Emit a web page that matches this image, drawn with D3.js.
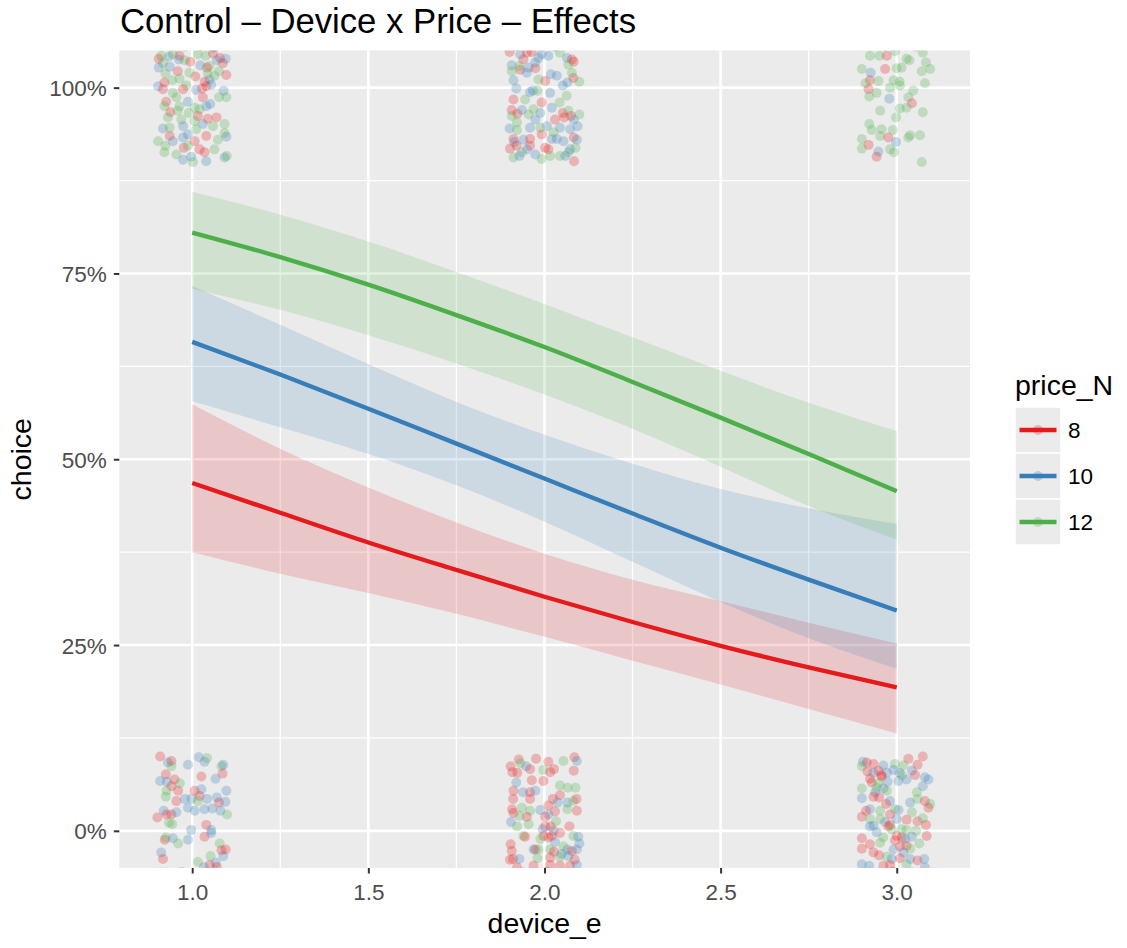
<!DOCTYPE html>
<html>
<head>
<meta charset="utf-8">
<script src="https://cdn.jsdelivr.net/npm/d3@7"></script>
<style>
  body { margin: 0; background: #fff; }
  text { font-family: "Liberation Sans", Arial, Helvetica, sans-serif; }
</style>
</head>
<body>
<svg id="chart" width="1127" height="948"></svg>
<script>
// ---- data ---------------------------------------------------------------
const priceLevels = ["8", "10", "12"];
const priceColors = ["#E41A1C", "#377EB8", "#4DAF4A"];

const xTicks = [1.0, 1.5, 2.0, 2.5, 3.0];
const yTicks = [0, 0.25, 0.5, 0.75, 1.0];

// predicted choice probability along device_e, with confidence band
const curveX = [1, 1.25, 1.5, 1.75, 2, 2.25, 2.5, 2.75, 3];
const fit8   = [0.468, 0.428, 0.388, 0.351, 0.315, 0.281, 0.249, 0.220, 0.193];
const low8   = [0.375, 0.346, 0.320, 0.292, 0.261, 0.229, 0.197, 0.164, 0.131];
const high8  = [0.574, 0.514, 0.462, 0.415, 0.373, 0.338, 0.309, 0.280, 0.252];
const fit10  = [0.658, 0.614, 0.568, 0.521, 0.474, 0.427, 0.381, 0.338, 0.2965];
const low10  = [0.578, 0.543, 0.507, 0.465, 0.416, 0.362, 0.308, 0.259, 0.218];
const high10 = [0.733, 0.681, 0.628, 0.577, 0.533, 0.494, 0.460, 0.434, 0.413];
const fit12  = [0.805, 0.772, 0.735, 0.694, 0.651, 0.604, 0.556, 0.507, 0.457];
const low12  = [0.729, 0.701, 0.667, 0.629, 0.587, 0.541, 0.490, 0.437, 0.392];
const high12 = [0.860, 0.829, 0.793, 0.752, 0.709, 0.664, 0.619, 0.576, 0.538];

// raw responses (jittered): [x offset, y offset] in hundredths, then price_N
const choseAt1 = [
  [-8.8,4.3,12],[-6.6,4.2,10],[-9.5,3.9,8],[-8.3,3.3,12],[-9.5,2.7,10],[-5.5,4.5,12],[-3.6,4.3,8],
  [-3.8,3.8,10],[-2.2,3.7,12],[-0.6,3.5,8],[-4.1,2.2,8],[-6.4,2.8,10],[-7.6,1.9,12],[1.6,4.5,12],
  [3.8,4.3,12],[5.9,4.6,8],[7.9,4.0,8],[9.5,3.9,10],[8.7,3.3,8],[7.0,3.7,10],[4.9,2.9,12],
  [4.2,2.7,8],[2.3,3.0,10],[7.6,2.2,12],[9.7,1.7,8],[0.9,1.5,8],[4.9,1.1,10],[3.5,0.8,8],
  [-9.7,0.2,10],[-7.9,0.7,8],[-8.3,-0.2,8],[-5.7,1.0,12],[-1.7,0.3,12],[-2.6,-0.2,8],[1.1,-0.3,10],
  [2.8,-0.1,8],[4.0,0.2,8],[5.4,0.4,10],[8.9,-0.4,10],[7.6,-1.3,12],[9.7,-1.3,12],[3.0,-1.3,8],
  [5.1,-2.2,10],[2.1,-2.9,12],[0.7,-2.7,12],[-1.2,-1.9,10],[-4.5,-1.3,12],[-7.4,-1.9,8],[-7.9,-2.5,12],
  [-6.2,-3.3,8],[-6.9,-4.0,12],[-3.1,-4.3,12],[-1.0,-3.4,12],[1.6,-3.8,8],[4.4,-4.2,8],[6.9,-4.0,8],
  [5.9,-5.2,12],[9.2,-4.9,12],[3.0,-4.9,10],[0.7,-4.5,12],[-2.6,-5.2,10],[-8.3,-5.5,10],[-9.7,-7.2,12],
  [-6.4,-6.5,8],[-7.6,-7.8,12],[-5.5,-7.2,10],[-2.6,-6.7,10],[-1.2,-6.3,10],[0.7,-7.2,8],[4.0,-6.5,8],
  [9.2,-6.1,12],[9.7,-6.6,10],[-2.4,-8.1,8],[-1.2,-7.8,12],[2.1,-8.3,8],[3.5,-8.7,8],[6.3,-8.3,12],
  [-7.9,-8.7,12],[-2.6,-9.7,10],[-0.3,-9.3,10],[0.2,-10.0,12],[4.0,-9.9,10],[9.2,-9.4,10],[9.8,-9.2,12],
  [-4.5,-9.0,12],[-3.6,-2.5,12],[-5.5,-0.7,12],[6.3,1.6,12],[4.4,1.9,12],[-0.8,2.0,12],[-3.6,1.2,12],
  [4.0,-2.5,10],[-4.1,-3.1,12],[7.3,-7.0,12],[1.1,-5.6,12],[-6.4,-5.4,12],[-2.0,5.5,12],[2.5,5.6,8],
  [-7.0,5.7,12],[6.0,5.4,10]
];
const choseAt2 = [
  [-9.9,4.8,8],[-6.9,4.5,10],[-5.0,4.7,8],[-3.6,4.8,8],[-0.8,4.5,10],[1.1,4.3,10],[4.4,4.7,12],
  [6.4,4.0,10],[7.8,3.8,8],[8.3,3.5,8],[6.8,3.1,12],[-6.0,3.8,8],[-9.3,3.0,10],[-6.9,2.4,8],
  [-9.3,2.2,12],[-4.5,2.7,10],[-2.6,2.6,8],[-5.0,2.0,10],[-2.6,3.4,10],[1.8,1.8,10],[0.2,0.9,8],
  [-1.7,1.1,12],[-8.8,1.0,10],[-8.0,-0.1,10],[-4.1,-0.6,10],[-3.3,-0.4,10],[-2.0,-0.4,12],[1.6,-0.7,10],
  [5.2,0.3,10],[6.5,0.7,10],[8.2,1.3,8],[9.9,0.8,12],[7.8,2.0,12],[6.3,-1.1,12],[-8.8,-1.6,8],
  [-9.3,-3.0,8],[-9.3,-3.8,12],[-7.7,-3.5,8],[-6.4,-3.0,10],[-4.5,-3.6,12],[-1.2,-3.4,10],[-2.6,-4.3,10],
  [2.1,-2.7,10],[3.0,-4.3,8],[5.2,-3.4,8],[6.8,-3.1,12],[5.6,-4.0,8],[7.5,-3.8,8],[8.3,-4.3,10],
  [9.9,-3.6,12],[9.4,-5.2,10],[7.3,-5.6,10],[4.4,-5.4,10],[0.7,-5.2,10],[-1.2,-5.4,12],[-4.1,-5.4,10],
  [-7.8,-5.7,12],[-9.9,-5.5,10],[-8.8,-6.9,8],[-8.6,-7.3,10],[-9.8,-8.2,8],[-7.9,-7.8,8],[-6.0,-7.0,10],
  [-4.1,-6.9,8],[-4.1,-7.8,8],[-6.4,-8.7,12],[-5.0,-8.3,10],[-2.6,-9.0,10],[0.2,-8.1,8],[-0.8,-6.3,8],
  [2.1,-6.9,10],[3.5,-6.9,10],[5.4,-7.2,10],[8.3,-6.7,8],[9.2,-7.0,10],[8.8,-8.1,12],[6.8,-8.7,12],
  [8.4,-9.9,8],[4.4,-9.2,12],[1.1,-8.3,8],[1.6,-9.2,12],[-0.8,-9.6,12],[-8.8,-9.4,12],[-7.1,-9.2,10],
  [5.9,-9.2,10],[7.3,-8.3,10],[3.5,1.6,10],[-7.1,2.9,12],[-1.7,4.0,10],[-5.5,-1.6,12],[-0.8,-2.0,8],
  [4.3,-2.0,12],[2.6,-6.0,12],[-7.8,-4.7,12],[-3.1,-2.9,12],[-8.0,5.6,8],[3.0,5.5,10],[8.8,5.7,8]
];
const choseAt3 = [
  [-7.6,4.3,12],[-4.9,4.3,12],[-2.8,4.3,8],[-0.5,4.9,12],[2.8,3.9,12],[3.6,3.7,12],[7.4,4.7,12],
  [8.3,3.4,12],[9.5,2.5,12],[7.1,2.2,12],[-9.9,2.5,12],[-7.4,2.0,10],[-3.3,2.5,8],[0.0,2.6,12],
  [1.4,2.7,12],[-7.6,1.0,8],[-8.9,0.6,12],[-8.0,-0.2,8],[-5.2,0.9,12],[-5.7,-0.7,12],[-7.8,-1.2,12],
  [-1.9,0.0,12],[-0.9,1.0,12],[0.8,0.8,12],[0.9,0.3,12],[8.0,0.6,12],[-2.1,-1.5,10],[4.7,-0.4,12],
  [3.3,-1.3,12],[4.3,-2.1,8],[2.8,-2.7,12],[0.9,-2.8,12],[-4.7,-3.1,12],[-0.2,-4.0,12],[7.4,-3.3,12],
  [-7.8,-4.9,12],[-7.1,-5.7,12],[-4.3,-5.6,12],[-1.1,-5.7,12],[-4.7,-6.5,12],[-9.9,-6.9,12],[-8.0,-7.7,8],
  [-9.9,-8.2,12],[-2.4,-6.7,8],[-0.2,-7.3,10],[3.8,-6.4,12],[6.6,-6.4,12],[3.3,-6.7,12],[-5.2,-8.6,10],
  [-5.7,-9.3,8],[-1.9,-8.3,12],[-0.8,-8.7,12],[7.1,-10.0,12],[-3.5,5.6,12],[5.5,5.5,12]
];
const rejectAt1 = [
  [-9.1,10.0,8],[-6.9,9.2,10],[-5.9,9.4,8],[-5.9,8.7,12],[-1.2,8.9,10],[1.9,9.9,10],[4.2,9.8,12],
  [3.5,9.3,10],[8.3,8.7,12],[8.8,8.9,10],[8.6,7.7,8],[2.6,7.3,8],[6.6,7.0,10],[-7.5,7.6,8],
  [-9.1,6.7,10],[-7.2,6.6,10],[-5.0,6.9,8],[-3.5,6.4,12],[-5.9,6.0,8],[-4.0,5.4,8],[-7.3,5.4,12],
  [-7.5,4.6,12],[0.7,5.4,8],[2.6,5.6,10],[2.1,4.7,8],[9.7,5.4,10],[-4.5,4.0,8],[-2.1,4.3,10],
  [-0.2,4.3,10],[1.6,4.0,12],[4.2,4.3,10],[7.0,4.5,10],[7.6,3.8,8],[9.4,3.9,10],[-1.2,3.1,10],
  [0.7,2.7,10],[3.5,2.9,10],[5.7,3.0,10],[-8.1,2.7,10],[-7.3,2.2,8],[-9.9,1.8,8],[-5.9,2.2,8],
  [-4.5,2.5,10],[9.9,2.2,12],[8.0,2.7,10],[-5.7,0.9,12],[-6.6,1.1,12],[-0.3,0.1,10],[4.0,0.8,8],
  [5.4,0.1,10],[3.5,-0.8,8],[5.4,-0.3,10],[-7.8,-1.2,8],[-7.5,-0.9,12],[-5.5,-1.0,10],[-4.0,-1.7,12],
  [-1.2,-1.2,10],[-8.8,-2.9,10],[-8.3,-3.8,8],[7.8,-1.7,12],[8.3,-2.6,8],[9.5,-2.5,8],[8.8,-3.4,10],
  [5.2,-3.4,12],[6.7,-4.3,10],[5.0,-4.6,8],[1.6,-4.2,12],[3.3,-4.9,10],[7.0,-4.9,8],[-9.0,-5.6,10],
  [-3.0,-5.5,12],[6.2,-5.7,8]
];
const rejectAt2 = [
  [-9.6,8.7,8],[-7.3,9.6,8],[-6.8,9.1,12],[-5.2,8.7,10],[-4.1,8.3,8],[-2.4,9.7,8],[-9.1,7.9,8],
  [-7.7,7.8,8],[-8.0,6.5,10],[-3.6,6.8,8],[-0.3,8.2,12],[1.1,9.3,8],[2.7,8.3,8],[1.6,7.9,8],
  [5.4,9.4,12],[8.5,9.9,8],[9.2,9.4,10],[8.3,8.1,8],[-0.3,6.7,8],[-8.8,5.4,8],[-6.1,5.2,10],
  [-4.1,5.2,8],[-2.6,5.4,10],[-4.1,4.3,8],[-8.9,4.3,8],[4.4,6.1,12],[6.6,5.8,12],[8.8,5.8,12],
  [4.4,4.8,8],[2.4,4.3,8],[3.7,3.8,10],[6.5,3.8,10],[8.2,4.0,12],[9.1,4.3,8],[-9.2,2.9,8],
  [-8.8,2.4,8],[-6.4,3.1,12],[-4.1,2.7,12],[-5.0,1.9,8],[-7.1,2.0,12],[-1.2,2.8,10],[1.1,3.4,8],
  [3.0,2.6,8],[6.5,2.9,12],[9.2,2.7,8],[1.1,2.2,10],[0.2,1.9,8],[3.3,1.3,12],[-9.5,1.2,10],
  [-7.8,0.6,12],[0.2,0.6,8],[1.8,0.6,8],[-0.5,0.2,10],[2.6,0.0,10],[7.1,0.6,8],[-6.0,-0.7,12],
  [-5.5,-0.8,8],[-0.3,-0.7,8],[1.1,-0.9,8],[2.1,-0.7,8],[4.4,-0.3,8],[8.2,-0.7,12],[9.6,-0.8,10],
  [3.0,-1.5,10],[9.9,-1.7,10],[-9.6,-1.8,8],[-9.3,-2.7,8],[-3.1,-2.5,10],[-2.6,-2.5,8],[-1.7,-2.5,12],
  [1.6,-2.5,12],[2.7,-2.8,8],[4.9,-3.1,10],[6.5,-2.5,10],[7.8,-2.7,8],[9.2,-2.5,10],[6.8,-3.4,10],
  [-9.8,-3.9,8],[-8.9,-3.8,8],[-7.1,-3.8,10],[-2.0,-3.7,12],[1.6,-3.6,8],[4.4,-3.5,12],[8.6,-3.9,8],
  [-3.1,-4.7,8],[-7.8,-4.9,8],[1.6,-4.6,8],[4.4,-4.7,8],[7.3,-4.7,8],[9.2,-4.6,10],[-4.5,0.9,12],
  [5.4,-2.1,12],[-1.2,-1.1,12],[-6.0,-5.6,8],[0.5,-5.5,8],[3.5,-5.7,10]
];
const rejectAt3 = [
  [-9.6,9.3,10],[-8.5,9.2,8],[-6.6,9.0,8],[-9.9,8.7,12],[-3.8,8.8,10],[-0.5,9.0,12],[1.9,8.8,12],
  [3.3,9.7,8],[5.9,8.9,8],[7.4,10.0,8],[4.3,8.1,10],[5.2,7.5,8],[-8.3,8.0,8],[-6.6,7.8,10],
  [-5.2,8.1,8],[-2.8,7.8,10],[-0.9,8.2,10],[0.8,7.8,10],[1.4,7.5,12],[-7.6,7.0,8],[-4.3,7.3,8],
  [-7.1,6.5,8],[-5.2,6.4,12],[-2.6,6.6,10],[0.5,6.7,10],[2.8,6.9,10],[8.0,7.2,10],[9.0,6.9,10],
  [7.4,6.0,10],[-9.9,5.7,12],[-5.7,5.8,12],[-3.8,5.7,10],[-2.8,5.4,12],[-6.1,5.2,10],[5.7,5.2,12],
  [-9.9,4.4,10],[-6.6,4.6,8],[-5.0,4.5,8],[-1.9,4.0,10],[-3.0,3.6,8],[3.8,3.8,10],[5.9,4.3,12],
  [8.0,4.0,8],[9.5,3.6,12],[9.0,3.1,8],[-7.6,2.9,10],[-8.7,2.7,8],[-4.7,2.7,12],[-0.5,2.9,12],
  [0.5,2.8,10],[-9.9,1.9,8],[-7.6,1.6,12],[-4.7,1.6,12],[-3.3,1.2,10],[-1.9,0.8,8],[0.0,1.6,10],
  [2.8,1.5,8],[4.3,2.5,12],[5.9,1.3,8],[7.4,1.7,12],[8.3,0.8,8],[-7.6,0.6,10],[-6.6,0.7,10],
  [-2.4,0.6,8],[-1.4,0.2,12],[2.8,0.1,12],[5.5,0.0,12],[-3.8,-0.9,12],[-9.9,-1.0,8],[0.0,-0.7,8],
  [1.4,-0.9,8],[-0.5,-1.3,8],[2.4,-1.1,10],[4.3,-0.8,10],[8.5,-0.7,8],[-4.7,-1.6,12],[-7.6,-1.8,8],
  [-9.9,-2.4,8],[-6.6,-2.9,8],[-5.0,-3.3,8],[-0.9,-2.5,10],[0.9,-2.1,8],[2.8,-2.0,8],[3.8,-2.4,12],
  [6.4,-1.7,12],[1.9,-2.9,10],[-2.8,-3.5,12],[-1.4,-3.8,10],[0.9,-3.7,8],[3.8,-3.8,10],[5.9,-4.0,8],
  [7.8,-3.8,10],[-9.9,-4.5,10],[-7.8,-4.7,10],[-3.8,-4.7,8],[-1.9,-4.6,8],[2.8,-4.5,12],[8.0,-4.9,10],
  [-4.3,7.5,8],[-1.9,2.2,8],[1.4,0.2,12],[-5.7,-0.2,10],[-8.0,-5.6,10],[-1.0,-5.5,8],[4.5,-5.6,10]
];

// ---- layout -------------------------------------------------------------
const panel = { left: 119.3, right: 970, top: 50.5, bottom: 868 };
const svg = d3.select("#chart");

const x = d3.scaleLinear().domain([0.793, 3.208]).range([panel.left, panel.right]);
const y = d3.scaleLinear().domain([-0.05, 1.05]).range([panel.bottom, panel.top]);
const color = d3.scaleOrdinal().domain(priceLevels).range(priceColors);

// panel background
svg.append("rect")
  .attr("x", panel.left).attr("y", panel.top)
  .attr("width", panel.right - panel.left).attr("height", panel.bottom - panel.top)
  .attr("fill", "#EBEBEB");

// grid lines (minor then major)
const xMinor = [1.25, 1.75, 2.25, 2.75];
const yMinor = [0.125, 0.375, 0.625, 0.875];
const grid = svg.append("g");
grid.selectAll(".xm").data(xMinor).join("line")
  .attr("x1", d => x(d)).attr("x2", d => x(d)).attr("y1", panel.top).attr("y2", panel.bottom)
  .attr("stroke", "#fff").attr("stroke-width", 1.3);
grid.selectAll(".ym").data(yMinor).join("line")
  .attr("y1", d => y(d)).attr("y2", d => y(d)).attr("x1", panel.left).attr("x2", panel.right)
  .attr("stroke", "#fff").attr("stroke-width", 1.3);
grid.selectAll(".xM").data(xTicks).join("line")
  .attr("x1", d => x(d)).attr("x2", d => x(d)).attr("y1", panel.top).attr("y2", panel.bottom)
  .attr("stroke", "#fff").attr("stroke-width", 2.6);
grid.selectAll(".yM").data(yTicks).join("line")
  .attr("y1", d => y(d)).attr("y2", d => y(d)).attr("x1", panel.left).attr("x2", panel.right)
  .attr("stroke", "#fff").attr("stroke-width", 2.6);

svg.append("clipPath").attr("id", "panel-clip").append("rect")
  .attr("x", panel.left).attr("y", panel.top)
  .attr("width", panel.right - panel.left).attr("height", panel.bottom - panel.top);

const plot = svg.append("g").attr("clip-path", "url(#panel-clip)");

// jittered raw responses
const clusters = [
  { x: 1, y: 1, pts: choseAt1 }, { x: 2, y: 1, pts: choseAt2 }, { x: 3, y: 1, pts: choseAt3 },
  { x: 1, y: 0, pts: rejectAt1 }, { x: 2, y: 0, pts: rejectAt2 }, { x: 3, y: 0, pts: rejectAt3 }
];
const points = clusters.flatMap(c => c.pts.map(p => ({
  x: c.x + p[0] / 100, y: c.y + p[1] / 100, price: String(p[2])
})));
plot.append("g").selectAll("circle").data(points).join("circle")
  .attr("cx", d => x(d.x)).attr("cy", d => y(d.y)).attr("r", 5)
  .attr("fill", d => color(d.price)).attr("fill-opacity", 0.27);

// fitted curves with confidence ribbons
const series = [
  { price: "8",  fit: fit8,  low: low8,  high: high8 },
  { price: "10", fit: fit10, low: low10, high: high10 },
  { price: "12", fit: fit12, low: low12, high: high12 }
].map(s => ({ ...s, rows: curveX.map((cx, i) => ({ x: cx, fit: s.fit[i], low: s.low[i], high: s.high[i] })) }));

const area = d3.area().curve(d3.curveMonotoneX)
  .x(d => x(d.x)).y0(d => y(d.low)).y1(d => y(d.high));
const line = d3.line().curve(d3.curveMonotoneX)
  .x(d => x(d.x)).y(d => y(d.fit));

plot.append("g").selectAll("path").data(series).join("path")
  .attr("d", d => area(d.rows)).attr("fill", d => color(d.price)).attr("fill-opacity", 0.17);
plot.append("g").selectAll("path").data(series).join("path")
  .attr("d", d => line(d.rows)).attr("fill", "none")
  .attr("stroke", d => color(d.price)).attr("stroke-width", 4.4);

// axes
const tickFont = 22.5;
const xAxis = svg.append("g").attr("transform", `translate(0,${panel.bottom})`)
  .call(d3.axisBottom(x).tickValues(xTicks).tickFormat(d3.format(".1f")).tickSize(5.5).tickPadding(8));
const yAxis = svg.append("g").attr("transform", `translate(${panel.left},0)`)
  .call(d3.axisLeft(y).tickValues(yTicks).tickFormat(d3.format(".0%")).tickSize(5.5).tickPadding(7));
[xAxis, yAxis].forEach(a => {
  a.select(".domain").remove();
  a.selectAll(".tick line").attr("stroke", "#333333").attr("stroke-width", 2);
  a.selectAll(".tick text").attr("fill", "#4D4D4D").style("font-size", tickFont + "px")
    .style("font-family", '"Liberation Sans", Arial, sans-serif');
});
xAxis.selectAll(".tick text").attr("y", 32).attr("dy", 0);
yAxis.selectAll(".tick text").attr("dy", "0.36em");

// titles
svg.append("text").attr("x", 120).attr("y", 33).attr("font-size", 34.7).attr("fill", "#000")
  .text("Control \u2013 Device x Price \u2013 Effects");
svg.append("text").attr("x", (panel.left + panel.right) / 2).attr("y", 933)
  .attr("text-anchor", "middle").attr("font-size", 28.5).attr("fill", "#000").text("device_e");
svg.append("text")
  .attr("transform", `translate(31,${(panel.top + panel.bottom) / 2}) rotate(-90)`)
  .attr("text-anchor", "middle").attr("font-size", 28.5).attr("fill", "#000").text("choice");

// legend
const legend = svg.append("g").attr("transform", "translate(1015,0)");
legend.append("text").attr("x", 0).attr("y", 395).attr("font-size", 28.5).attr("fill", "#000").text("price_N");
const keySize = 46, keyTop = 407;
const keys = legend.selectAll(".key").data(priceLevels).join("g")
  .attr("transform", (d, i) => `translate(0,${keyTop + i * keySize})`);
keys.append("rect").attr("width", keySize).attr("height", keySize)
  .attr("fill", "#EBEBEB").attr("stroke", "#fff").attr("stroke-width", 1.5);
keys.append("circle").attr("cx", keySize / 2).attr("cy", keySize / 2).attr("r", 5)
  .attr("fill", d => color(d)).attr("fill-opacity", 0.27);
keys.append("line").attr("x1", 4.5).attr("x2", keySize - 4.5)
  .attr("y1", keySize / 2).attr("y2", keySize / 2)
  .attr("stroke", d => color(d)).attr("stroke-width", 4.4);
keys.append("text").attr("x", keySize + 7).attr("y", keySize / 2).attr("dy", "0.36em")
  .attr("font-size", tickFont).attr("fill", "#000").text(d => d);
</script>
</body>
</html>
